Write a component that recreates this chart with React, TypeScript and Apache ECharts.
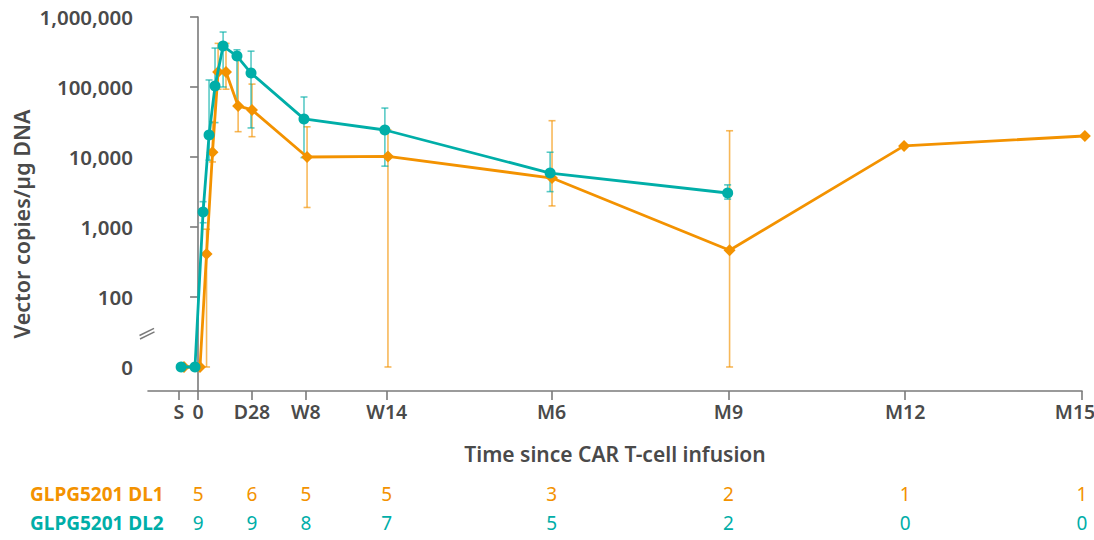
import React, { useEffect, useRef } from "react";
import * as echarts from "echarts";

// ---- Data ----
const xTickDays = [-10, 0, 28, 56, 98, 183.6, 275.4, 367.2, 459];
const xTickLabels = ["S", "0", "D28", "W8", "W14", "M6", "M9", "M12", "M15"];
const countDays = [0, 28, 56, 98, 183.6, 275.4, 367.2, 459];
const dl1Counts = [5, 6, 5, 5, 3, 2, 1, 1];
const dl2Counts = [9, 9, 8, 7, 5, 2, 0, 0];

const yTickValues = [0, 100, 1000, 10000, 100000, 1000000];

// GLPG5201 DL1 (orange)
const dl1Days = [-7.3, 1.0, 4.4, 7.5, 10.4, 14.5, 20.8, 28, 56.6, 98.6, 183.8, 276, 366.6, 460.5];
const dl1Values = [0, 0, 410, 11700, 164000, 164000, 53600, 47000, 10000, 10200, 5000, 465, 14400, 20000];
const dl1Low = [null, null, 0, 8500, 93000, 93000, 23000, 19500, 1900, 0, 2000, 0, null, null];
const dl1High = [null, null, 930, 32000, 420000, 420000, 245000, 110000, 27000, 24500, 33000, 23700, null, null];

// GLPG5201 DL2 (teal)
const dl2Days = [-8.8, -1.6, 2.6, 5.7, 8.8, 13, 20.2, 27.5, 55, 97, 182.8, 275];
const dl2Values = [0, 0, 1640, 20600, 103000, 385000, 277000, 158000, 35000, 24300, 5900, 3060];
const dl2Low = [null, null, 1150, 9000, 31000, 100000, 54000, 26000, 9800, 7400, 3200, 2500];
const dl2High = [null, null, 2300, 126000, 360000, 610000, 340000, 325000, 72000, 50000, 11700, 4000];

const ORANGE = "#F39200";
const TEAL = "#00AEA8";
const AXIS = "#7a7a7a";
const TEXT = "#4a4a4a";
const FONT = "'Noto Sans', sans-serif";

const X_MIN = -26;
const X_MAX = 459;
const Y_MIN = 0.657;
const Y_MAX = 6;

const toY = (v: number) => (v <= 0 ? 1 : Math.log10(v));

function lineData(days: number[], vals: number[]) {
  return days.map((d, i) => [d, toY(vals[i])]);
}
function errData(days: number[], lo: (number | null)[], hi: (number | null)[]) {
  const out: number[][] = [];
  days.forEach((d, i) => {
    if (lo[i] !== null && hi[i] !== null) out.push([d, toY(lo[i] as number), toY(hi[i] as number)]);
  });
  return out;
}

function errorSeries(data: number[][], color: string) {
  return {
    type: "custom",
    xAxisIndex: 0,
    yAxisIndex: 0,
    data,
    encode: { x: 0, y: [1, 2] },
    z: 1,
    silent: true,
    renderItem: (params: any, api: any) => {
      const x = api.value(0);
      const p1 = api.coord([x, api.value(1)]);
      const p2 = api.coord([x, api.value(2)]);
      const w = 3.5;
      const style = { stroke: color, lineWidth: 1.6, opacity: 0.65 };
      return {
        type: "group",
        children: [
          { type: "line", shape: { x1: p1[0], y1: p1[1], x2: p2[0], y2: p2[1] }, style },
          { type: "line", shape: { x1: p1[0] - w, y1: p1[1], x2: p1[0] + w, y2: p1[1] }, style },
          { type: "line", shape: { x1: p2[0] - w, y1: p2[1], x2: p2[0] + w, y2: p2[1] }, style },
        ],
      };
    },
  };
}

function nearestIdx(arr: number[], v: number) {
  let best = 0;
  for (let i = 1; i < arr.length; i++) if (Math.abs(arr[i] - v) < Math.abs(arr[best] - v)) best = i;
  return best;
}

export default function App() {
  const ref = useRef<HTMLDivElement>(null);
  useEffect(() => {
    if (!ref.current) return;
    const chart = echarts.init(ref.current, null, { renderer: "svg" });
    const yTicks = yTickValues.map(toY);
    const countAxis = (offset: number, counts: number[], color: string) => ({
      type: "value",
      gridIndex: 0,
      position: "bottom",
      offset,
      min: X_MIN,
      max: X_MAX,
      axisLine: { show: false },
      axisTick: { show: false },
      splitLine: { show: false },
      axisLabel: {
        customValues: countDays,
        margin: 0,
        verticalAlign: "middle",
        color,
        fontSize: 19,
        fontFamily: FONT,
        formatter: (v: number) => String(counts[nearestIdx(countDays, v)]),
      },
    });
    chart.setOption({
      animation: false,
      backgroundColor: "#ffffff",
      grid: { left: 148, right: 12, top: 17, bottom: 149, containLabel: false, outerBoundsMode: "none" },
      xAxis: [
        {
          type: "value",
          gridIndex: 0,
          position: "bottom",
          min: X_MIN,
          max: X_MAX,
          axisLine: { show: true, lineStyle: { color: AXIS, width: 1.6 } },
          axisTick: { show: true, customValues: xTickDays, length: 9, lineStyle: { color: AXIS, width: 1.6 } },
          splitLine: { show: false },
          axisLabel: {
            customValues: xTickDays,
            margin: 10,
            color: TEXT,
            fontSize: 19.5,
            fontWeight: 600,
            fontFamily: FONT,
            formatter: (v: number) => {
              const i = nearestIdx(xTickDays, v);
              return i === xTickDays.length - 1 ? "{r|" + xTickLabels[i] + "}" : xTickLabels[i];
            },
            rich: {
              r: { padding: [0, 14, 0, 0], color: TEXT, fontSize: 19.5, fontWeight: 600, fontFamily: FONT },
            },
          },
          name: "Time since CAR T-cell infusion",
          nameLocation: "middle",
          nameGap: 52,
          nameTextStyle: { color: TEXT, fontSize: 21, fontWeight: 600, fontFamily: FONT },
        },
        countAxis(103, dl1Counts, ORANGE),
        countAxis(132, dl2Counts, TEAL),
      ],
      yAxis: {
        type: "value",
        min: Y_MIN,
        max: Y_MAX,
        axisLine: { show: true, lineStyle: { color: AXIS, width: 1.6 } },
        axisTick: { show: true, customValues: yTicks, length: 8, lineStyle: { color: AXIS, width: 1.6 } },
        splitLine: { show: false },
        axisLabel: {
          customValues: yTicks,
          margin: 15,
          color: TEXT,
          fontSize: 20.5,
          fontWeight: 600,
          fontFamily: FONT,
          formatter: (v: number) => {
            const idx = nearestIdx(yTicks, v);
            return yTickValues[idx].toLocaleString("en-US");
          },
        },
      },
      graphic: [
        {
          type: "text",
          x: 21,
          y: 224,
          rotation: Math.PI / 2,
          style: {
            text: "Vector copies/µg DNA",
            fill: TEXT,
            fontSize: 21.5,
            fontWeight: 600,
            fontFamily: FONT,
            align: "center",
            verticalAlign: "middle",
          },
        },
        {
          type: "polygon",
          shape: { points: [[140, 335.5], [154, 328.5], [154, 332], [140, 339]] },
          style: { fill: "#ffffff" },
          z: 100,
        },
        {
          type: "line",
          shape: { x1: 139.5, y1: 335.5, x2: 154, y2: 328.3 },
          style: { stroke: AXIS, lineWidth: 1.4 },
          z: 101,
        },
        {
          type: "line",
          shape: { x1: 140, y1: 339, x2: 154.5, y2: 331.8 },
          style: { stroke: AXIS, lineWidth: 1.4 },
          z: 101,
        },
        {
          type: "text",
          x: 30,
          y: 494,
          style: { text: "GLPG5201 DL1", fill: ORANGE, fontSize: 19, fontWeight: 700, fontFamily: FONT, verticalAlign: "middle" },
        },
        {
          type: "text",
          x: 30,
          y: 523,
          style: { text: "GLPG5201 DL2", fill: TEAL, fontSize: 19, fontWeight: 700, fontFamily: FONT, verticalAlign: "middle" },
        },
      ],
      series: [
        errorSeries(errData(dl1Days, dl1Low, dl1High), ORANGE),
        errorSeries(errData(dl2Days, dl2Low, dl2High), TEAL),
        {
          type: "line",
          name: "GLPG5201 DL1",
          data: lineData(dl1Days, dl1Values),
          symbol: "diamond",
          symbolSize: 12,
          clip: false,
          z: 3,
          lineStyle: { color: ORANGE, width: 2.8 },
          itemStyle: { color: ORANGE },
        },
        {
          type: "line",
          name: "GLPG5201 DL2",
          data: lineData(dl2Days, dl2Values),
          symbol: "circle",
          symbolSize: 11,
          clip: false,
          z: 4,
          lineStyle: { color: TEAL, width: 2.8 },
          itemStyle: { color: TEAL },
        },
      ],
    });
    return () => chart.dispose();
  }, []);
  return (
    <div
      ref={ref}
      style={{ position: "fixed", left: 0, top: 0, width: 1094, height: 540, background: "#fff" }}
    />
  );
}
